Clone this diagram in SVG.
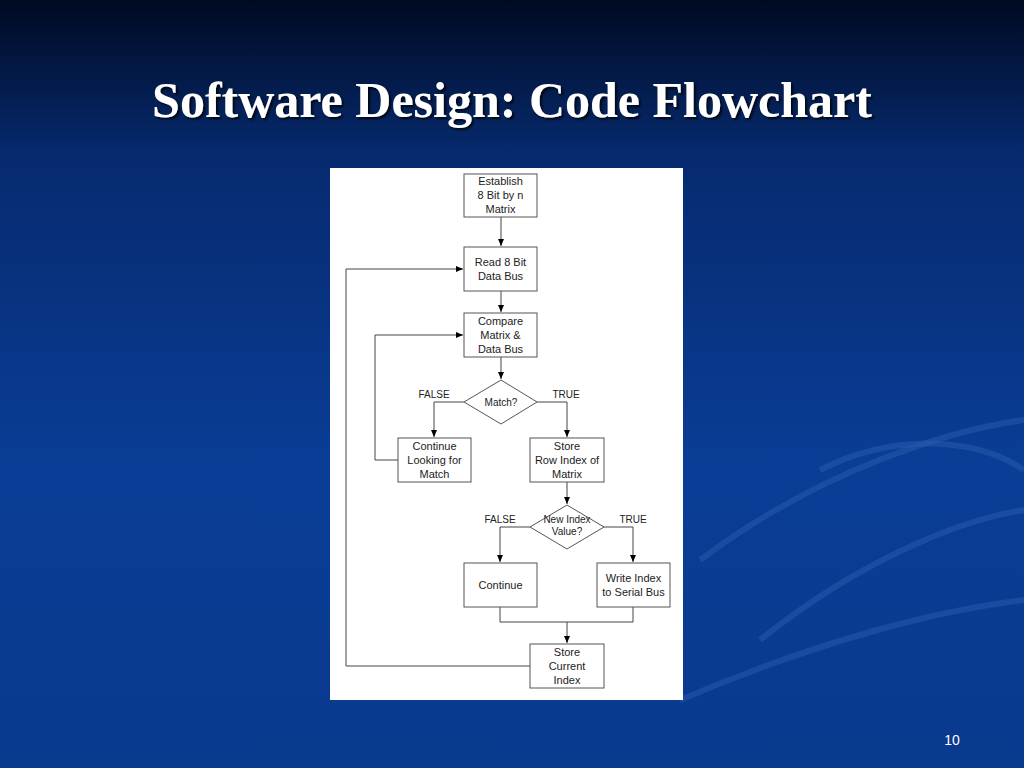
<svg xmlns="http://www.w3.org/2000/svg" width="1024" height="768" viewBox="0 0 1024 768">
<defs>
<linearGradient id="bg" x1="0" y1="0" x2="0" y2="1">
<stop offset="0" stop-color="#000a22"/>
<stop offset="0.2" stop-color="#062a6e"/>
<stop offset="0.6" stop-color="#0a3d96"/>
<stop offset="1" stop-color="#0a3a8e"/>
</linearGradient>
<filter id="sh"><feDropShadow dx="2" dy="2" stdDeviation="1" flood-color="#000" flood-opacity="0.8"/></filter>
<marker id="ah" markerWidth="8" markerHeight="8" refX="7" refY="4" orient="auto" markerUnits="userSpaceOnUse">
<path d="M0,1 L7,4 L0,7 Z" fill="#000"/>
</marker>
<style>
.b{fill:#fff;stroke:#555;stroke-width:1}
.t{font-family:"Liberation Sans",Arial,sans-serif;font-size:11px;fill:#222;text-anchor:middle}
.l{font-family:"Liberation Sans",Arial,sans-serif;font-size:10px;fill:#222;text-anchor:middle}
.c{fill:none;stroke:#444;stroke-width:1}
</style>
</defs>
<rect width="1024" height="768" fill="url(#bg)"/>
<g fill="none" stroke="#2a5cb0" stroke-opacity="0.5" stroke-width="6">
<path d="M700,560 C820,470 950,430 1024,420"/>
<path d="M760,640 C860,560 960,520 1024,510"/>
<path d="M680,700 C820,640 940,610 1024,600"/>
<path d="M820,470 C900,430 980,440 1024,470"/>
</g>
<text x="512" y="117" text-anchor="middle" font-family="'Liberation Serif','Times New Roman',serif" font-size="50" font-weight="bold" fill="#fff" filter="url(#sh)">Software Design: Code Flowchart</text>
<text x="952" y="745" text-anchor="middle" font-family="'Liberation Sans',Arial,sans-serif" font-size="14" fill="#fff">10</text>
<rect x="330" y="168" width="353" height="532" fill="#fff"/>
<g id="connectors">
<path class="c" d="M501,217 V246" marker-end="url(#ah)"/>
<path class="c" d="M501,291 V312" marker-end="url(#ah)"/>
<path class="c" d="M501,357 V379" marker-end="url(#ah)"/>
<path class="c" d="M464,402 H434 V437" marker-end="url(#ah)"/>
<path class="c" d="M537,402 H567 V437" marker-end="url(#ah)"/>
<path class="c" d="M398,460 H375 V335 H463" marker-end="url(#ah)"/>
<path class="c" d="M567,482 V504" marker-end="url(#ah)"/>
<path class="c" d="M530,527 H500 V562" marker-end="url(#ah)"/>
<path class="c" d="M604,527 H633 V562" marker-end="url(#ah)"/>
<path class="c" d="M500,607 V622 H633 V607"/>
<path class="c" d="M567,622 V643" marker-end="url(#ah)"/>
<path class="c" d="M530,666 H346 V269 H463" marker-end="url(#ah)"/>
<text class="l" x="434" y="398">FALSE</text>
<text class="l" x="566" y="398">TRUE</text>
<text class="l" x="500" y="523">FALSE</text>
<text class="l" x="633" y="523">TRUE</text>
</g>
<g id="n1"><rect class="b" x="464" y="174" width="73" height="43"/><text class="t" x="500.5" y="185">Establish</text><text class="t" x="500.5" y="199">8 Bit by n</text><text class="t" x="500.5" y="213">Matrix</text></g>
<g id="n2"><rect class="b" x="464" y="247" width="73" height="44"/><text class="t" x="500.5" y="266">Read 8 Bit</text><text class="t" x="500.5" y="280">Data Bus</text></g>
<g id="n3"><rect class="b" x="464" y="313" width="73" height="44"/><text class="t" x="500.5" y="325">Compare</text><text class="t" x="500.5" y="339">Matrix &amp;</text><text class="t" x="500.5" y="353">Data Bus</text></g>
<g id="d1"><path class="b" d="M501,380 L537,402 L501,424 L464,402 Z"/><text class="l" x="501" y="406">Match?</text></g>
<g id="n4"><rect class="b" x="398" y="438" width="73" height="44"/><text class="t" x="434.5" y="450">Continue</text><text class="t" x="434.5" y="464">Looking for</text><text class="t" x="434.5" y="478">Match</text></g>
<g id="n5"><rect class="b" x="530" y="438" width="74" height="44"/><text class="t" x="567" y="450">Store</text><text class="t" x="567" y="464">Row Index of</text><text class="t" x="567" y="478">Matrix</text></g>
<g id="d2"><path class="b" d="M567,505 L604,527 L567,549 L530,527 Z"/><text class="l" x="567" y="523">New Index</text><text class="l" x="567" y="535">Value?</text></g>
<g id="n6"><rect class="b" x="464" y="563" width="73" height="44"/><text class="t" x="500.5" y="589">Continue</text></g>
<g id="n7"><rect class="b" x="597" y="563" width="73" height="44"/><text class="t" x="633.5" y="582">Write Index</text><text class="t" x="633.5" y="596">to Serial Bus</text></g>
<g id="n8"><rect class="b" x="530" y="644" width="74" height="44"/><text class="t" x="567" y="656">Store</text><text class="t" x="567" y="670">Current</text><text class="t" x="567" y="684">Index</text></g>
</svg>
